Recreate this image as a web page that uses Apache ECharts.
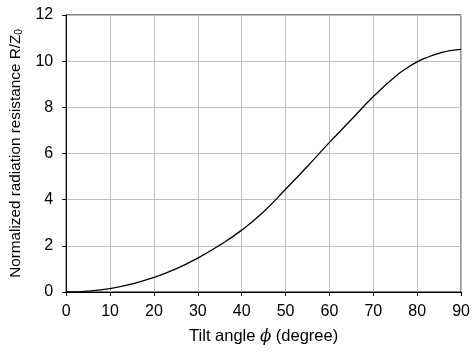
<!DOCTYPE html>
<html>
<head>
<meta charset="utf-8">
<script src="https://cdn.jsdelivr.net/npm/echarts@6/dist/echarts.min.js"></script>
<style>
  html, body { margin: 0; padding: 0; background: #fff; }
  #chart { width: 473px; height: 356px; }
</style>
</head>
<body>
<div id="chart"></div>
<script>
// tilt angle (degree) and normalized radiation resistance R/Z0
const tiltAngle = [0, 5, 10, 15, 20, 25, 30, 35, 40, 45, 50, 55, 60, 65, 70, 75, 77.5, 80, 82.5, 85, 87.5, 90]
const resistance = [0, 0.04, 0.15, 0.35, 0.63, 1.0, 1.47, 2.03, 2.68, 3.48, 4.45, 5.45, 6.48, 7.47, 8.47, 9.34, 9.68, 9.97, 10.18, 10.34, 10.46, 10.51]
const xTicks = [0, 10, 20, 30, 40, 50, 60, 70, 80, 90]
const yTicks = [0, 2, 4, 6, 8, 10, 12]

const font = 'Liberation Sans, Arial, sans-serif'

const chart = echarts.init(document.getElementById('chart'))

const option = {
  animation: false,
  backgroundColor: '#fff',
  grid: {
    left: 66,
    right: 10,
    top: 15,
    bottom: 64,
    show: true,
    borderColor: '#000',
    borderWidth: 1
  },
  xAxis: {
    type: 'value',
    min: xTicks[0],
    max: xTicks[xTicks.length - 1],
    interval: 10,
    name: '{n|Tilt angle }{i|\u03d5}{n| (degree)}',
    nameLocation: 'middle',
    nameGap: 36,
    nameTextStyle: {
      rich: {
        n: { fontFamily: font, fontSize: 16.5, color: '#000' },
        i: { fontFamily: 'DejaVu Serif, serif', fontStyle: 'italic', fontSize: 16.5, color: '#000' }
      }
    },
    axisLine: { show: true, lineStyle: { color: '#000', width: 1 } },
    axisTick: { show: true, inside: false, length: 4, lineStyle: { color: '#000' } },
    axisLabel: { color: '#000', fontFamily: font, fontSize: 16, margin: 12 },
    splitLine: { show: true, lineStyle: { color: '#c0c0c0', width: 1 } }
  },
  yAxis: {
    type: 'value',
    min: yTicks[0],
    max: yTicks[yTicks.length - 1],
    interval: 2,
    name: '{n|Normalized radiation resistance R/Z}{s|0}',
    nameLocation: 'middle',
    nameGap: 33,
    nameTextStyle: {
      rich: {
        n: { fontFamily: font, fontSize: 15.3, color: '#000' },
        s: { fontFamily: font, fontSize: 10, color: '#000', verticalAlign: 'bottom', padding: [8, 0, 0, 0] }
      }
    },
    axisLine: { show: true, lineStyle: { color: '#000', width: 1 } },
    axisTick: { show: true, inside: false, length: 4, lineStyle: { color: '#000' } },
    axisLabel: { color: '#000', fontFamily: font, fontSize: 16, margin: 13 },
    splitLine: { show: true, lineStyle: { color: '#c0c0c0', width: 1 } }
  },
  series: [
    {
      type: 'line',
      data: tiltAngle.map((x, i) => [x, resistance[i]]),
      smooth: true,
      showSymbol: false,
      lineStyle: { color: '#000', width: 1.3 }
    }
  ]
}

chart.setOption(option)
</script>
</body>
</html>
